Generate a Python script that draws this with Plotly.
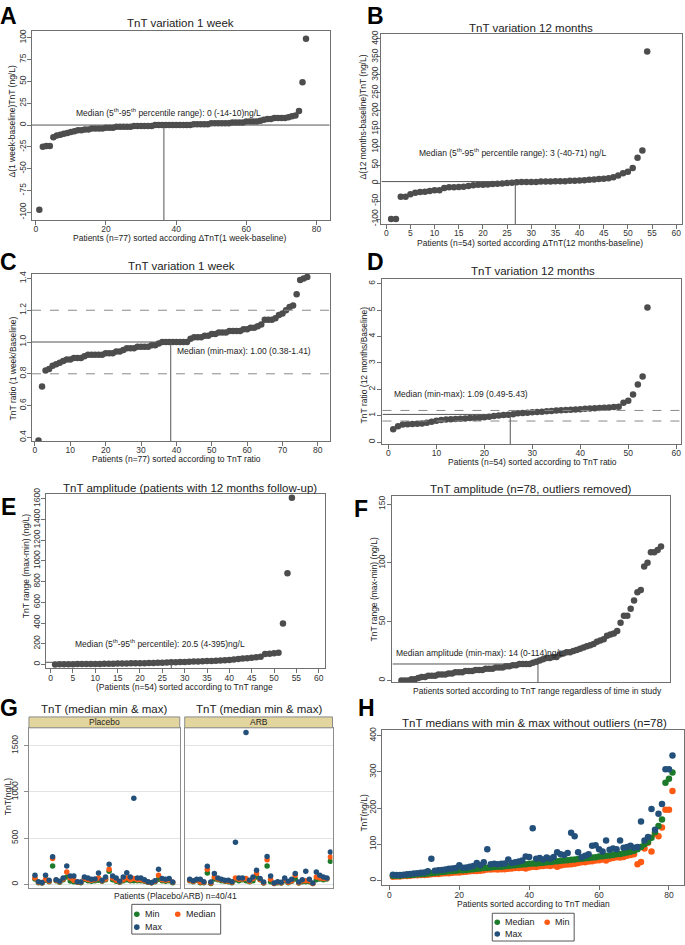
import plotly.graph_objects as go

W, H = 685, 945
FONT = "Liberation Sans, Arial, Helvetica, sans-serif"
DOT = "#4d4d4d"
LINE = "#555555"
BOX = "#707070"
TXT = "#222222"
GREEN = "#1c7a2a"
ORANGE = "#ff5a14"
BLUE = "#23507a"

# ---------------- data ----------------
# A: delta TnT (1 week - baseline), sorted, n=77
a_delta = [-97, -25, -24, -24, -14, -12, -11, -10, -9, -8,
           -7, -6, -6, -5, -5, -4, -4, -4, -4, -3,
           -3, -3, -2, -2, -2, -2, -2, -1, -1, -1,
           -1, -1, -1, 0, 0, 0, 0, 0, 0, 0,
           0, 0, 0, 0, 1, 1, 1, 1, 1, 2,
           2, 2, 2, 2, 2, 3, 3, 3, 3, 4,
           4, 4, 4, 5, 6, 7, 7, 8, 8, 8,
           8, 9, 10, 11, 16, 49, 99]
a_median_x, a_median_y = 36.5, 0

# B: delta TnT (12 months - baseline), sorted, n=54
b_delta = [-100, -100, -38, -38, -31, -27, -25, -24, -22, -20,
           -20, -14, -12, -12, -11, -10, -8, -6, -5, -5,
           -4, -3, -2, -1, 0, 1, 2, 3, 3, 3,
           3, 4, 4, 4, 5, 5, 5, 6, 6, 7,
           8, 9, 10, 11, 12, 13, 16, 21, 27, 31,
           42, 70, 90, 365]
b_median_x, b_median_y = 26.7, 4

# C: TnT ratio 1 week / baseline, n=77
c_ratio = [0.38, 0.72, 0.82, 0.83, 0.85, 0.86, 0.87, 0.88, 0.89, 0.89,
           0.90, 0.90, 0.90, 0.91, 0.92, 0.92, 0.92, 0.92, 0.92, 0.93,
           0.93, 0.93, 0.94, 0.94, 0.95, 0.96, 0.96, 0.96, 0.97, 0.97,
           0.97, 0.97, 0.98, 0.98, 0.99, 1.00, 1.00, 1.00, 1.00, 1.00,
           1.00, 1.00, 1.00, 1.02, 1.03, 1.03, 1.03, 1.04, 1.04, 1.05,
           1.05, 1.06, 1.06, 1.06, 1.07, 1.07, 1.07, 1.07, 1.08, 1.08,
           1.09, 1.09, 1.10, 1.11, 1.14, 1.14, 1.14, 1.15, 1.17, 1.18,
           1.20, 1.22, 1.23, 1.30, 1.39, 1.40, 1.41]
c_median_x, c_median_y = 38.4, 1.0
c_band = [0.8, 1.2]

# D: TnT ratio 12 months / baseline, n=54
d_ratio = [0.49, 0.60, 0.67, 0.68, 0.69, 0.70, 0.71, 0.73, 0.77, 0.81,
           0.84, 0.86, 0.87, 0.88, 0.89, 0.90, 0.91, 0.91, 0.92, 0.94,
           0.96, 0.99, 1.01, 1.03, 1.04, 1.06, 1.09, 1.10, 1.11, 1.13,
           1.14, 1.15, 1.17, 1.18, 1.20, 1.21, 1.22, 1.23, 1.24, 1.25,
           1.26, 1.27, 1.28, 1.29, 1.30, 1.31, 1.33, 1.34, 1.49, 1.57,
           1.80, 2.18, 2.49, 5.10]
d_median_x, d_median_y = 25.4, 1.05
d_band = [0.8, 1.2]

# E: TnT amplitude, patients with 12 months follow-up, n=54
e_range = [0, 1, 1, 2, 2, 3, 3, 4, 4, 5,
           5, 6, 6, 7, 8, 8, 9, 10, 11, 12,
           12, 13, 14, 15, 17, 19, 20, 21, 23, 24,
           26, 27, 29, 30, 32, 34, 36, 38, 40, 43,
           47, 52, 56, 60, 65, 70, 75, 100, 104, 108,
           112, 395, 880, 1610]
e_median_x, e_median_y = 27, 20.5

# F: TnT amplitude, n=78, outliers removed
f_range = [0, 0, 0, 1, 1, 2, 3, 3, 4, 4,
           4, 5, 5, 5, 6, 6, 7, 7, 7, 8,
           8, 8, 9, 9, 9, 10, 10, 10, 11, 11,
           11, 12, 12, 13, 13, 14, 14, 14, 14, 15,
           16, 17, 18, 19, 19, 20, 20, 22, 23, 24,
           24, 25, 26, 27, 28, 29, 30, 31, 33, 34,
           35, 38, 39, 40, 42, 49, 55, 55, 61, 68,
           75, 77, 97, 100, 109, 109, 111, 114]
f_median_x, f_median_y = 41.5, 14

# G: per patient min / median / max TnT, Placebo (n=40) and ARB (n=41)
g_placebo_min = [60, 20, 15, 45, 30, 200, 40, 25, 50, 82,
                 39, 30, 25, 20, 55, 40, 35, 40, 45, 35,
                 50, 143, 50, 35, 25, 40, 50, 40, 40, 40,
                 40, 35, 25, 18, 30, 57, 40, 35, 40, 20]
g_placebo_median = [70, 25, 18, 57, 35, 280, 45, 30, 60, 135,
                    71, 46, 28, 25, 64, 55, 45, 50, 71, 40,
                    60, 164, 70, 45, 30, 50, 71, 50, 64, 50,
                    50, 40, 28, 20, 35, 100, 50, 45, 50, 25]
g_placebo_max = [100, 30, 22, 100, 45, 300, 50, 35, 70, 200,
                 93, 93, 30, 28, 82, 71, 57, 60, 125, 46,
                 82, 218, 93, 71, 35, 82, 128, 82, 932, 71,
                 71, 50, 30, 22, 40, 164, 64, 57, 64, 28]
g_arb_min = [40, 30, 45, 20, 20, 125, 10, 60, 50, 40,
             35, 30, 20, 50, 40, 50, 40, 30, 40, 82,
             50, 15, 200, 30, 10, 20, 15, 40, 20, 35,
             60, 15, 30, 30, 30, 10, 50, 60, 50, 60,
             250]
g_arb_median = [45, 35, 50, 28, 25, 164, 15, 82, 60, 50,
                40, 35, 25, 71, 57, 60, 64, 35, 64, 118,
                55, 20, 268, 57, 12, 25, 20, 50, 25, 40,
                100, 20, 40, 40, 40, 12, 82, 71, 64, 65,
                296]
g_arb_max = [57, 40, 57, 57, 30, 196, 28, 118, 71, 57,
             46, 46, 30, 457, 71, 71, 1643, 46, 82, 153,
             64, 28, 303, 93, 15, 30, 25, 71, 35, 57,
             118, 28, 50, 143, 57, 15, 136, 100, 82, 70,
             350]

# H: TnT medians with min & max, sorted by median
h_median = [13, 13, 13, 14, 14, 15, 16, 17, 17, 18,
            19, 20, 21, 22, 23, 24, 25, 26, 27, 28,
            28, 29, 30, 31, 32, 33, 34, 35, 36, 37,
            38, 38, 39, 40, 41, 42, 43, 44, 45, 46,
            47, 47, 48, 49, 50, 51, 52, 53, 54, 55,
            56, 57, 58, 59, 60, 61, 62, 63, 64, 66,
            67, 68, 69, 70, 72, 73, 75, 77, 79, 82,
            86, 92, 100, 106, 118, 133, 150, 168, 270, 281, 298]
h_min = [10, 11, 11, 12, 12, 13, 14, 14, 15, 15,
         16, 17, 18, 18, 19, 20, 20, 21, 22, 22,
         23, 24, 25, 26, 26, 27, 28, 30, 30, 31,
         30, 31, 31, 32, 33, 34, 34, 35, 33, 36,
         38, 37, 39, 40, 41, 40, 42, 38, 41, 43,
         44, 45, 46, 48, 50, 50, 52, 53, 55, 56,
         58, 55, 60, 62, 64, 63, 65, 68, 70, 72,
         45, 51, 88, 104, 80, 129, 122, 146, 195, 195, 247]
h_max = [16, 15, 15, 16, 17, 18, 19, 20, 21, 22,
         25, 60, 27, 28, 29, 30, 32, 33, 34, 42,
         35, 36, 38, 40, 48, 42, 50, 86, 45, 46,
         45, 46, 47, 58, 48, 50, 52, 55, 66, 65,
         144, 60, 62, 58, 63, 60, 65, 78, 72, 70,
         76, 132, 122, 78, 64, 68, 72, 96, 97, 86,
         80, 110, 85, 88, 86, 110, 90, 92, 96, 90,
         92, 163, 110, 120, 197, 140, 184, 211, 307, 307, 345]

# ---------------- helpers ----------------
def fx(p):
    return p / W


def fy(p):
    return 1 - p / H


layout = {}
annotations = []
shapes = []
fig = go.Figure()


def idx(vals):
    return list(range(1, len(vals) + 1))


def add_axes(i, xpx, ypx, xrange, yrange, xticks, yticks, yfmt=str,
             ylabels=True, ygrid=False, box=BOX, ystand=0):
    s = '' if i == 1 else str(i)
    base = dict(showline=True, linecolor=box, linewidth=1, mirror=True,
                ticks='outside', ticklen=4, tickcolor=box, tickwidth=1,
                tickfont=dict(size=8.5, color='#333333', family=FONT),
                showgrid=False, zeroline=False, fixedrange=True)
    xa = dict(base, domain=[fx(xpx[0]), fx(xpx[1])], range=xrange,
              anchor='y' + s, ticklabelstandoff=-3)
    if xticks:
        xa.update(tickmode='array', tickvals=xticks,
                  ticktext=[str(v) for v in xticks])
    else:
        xa.update(ticks='', showticklabels=False)
    ya = dict(base, domain=[fy(ypx[1]), fy(ypx[0])], range=yrange,
              anchor='x' + s, tickangle=-90, ticklabelstandoff=ystand)
    if yticks:
        ya.update(tickmode='array', tickvals=yticks,
                  ticktext=[yfmt(v) for v in yticks])
    if not ylabels:
        ya.update(showticklabels=False, ticks='')
    if ygrid:
        ya.update(showgrid=True, gridcolor='#e3e3e3', gridwidth=1)
    layout['xaxis' + s] = xa
    layout['yaxis' + s] = ya
    return 'x' + s, 'y' + s


def dots(xr, yr, x, y, color=DOT, size=6.5, name=None):
    fig.add_trace(go.Scatter(x=x, y=y, xaxis=xr, yaxis=yr, mode='markers',
                             name=name, showlegend=False,
                             marker=dict(color=color, size=size,
                                         line=dict(width=0))))


def text(t, x, y, size=8.5, xa='center', ya='middle', angle=0,
         color=TXT, bold=False):
    annotations.append(dict(text=f"<b>{t}</b>" if bold else t,
                            x=fx(x), y=fy(y), xref='paper', yref='paper',
                            xanchor=xa, yanchor=ya, showarrow=False,
                            textangle=angle,
                            font=dict(size=size, color=color, family=FONT)))


def median_lines(xr, yr, mx, my, xmin, ymin, full=False):
    shapes.append(dict(type='line', xref=xr, yref=yr, x0=mx, x1=mx,
                       y0=ymin, y1=my, line=dict(color=LINE, width=1)))
    if full:
        shapes.append(dict(type='line', xref=xr + ' domain', yref=yr,
                           x0=0, x1=1, y0=my, y1=my,
                           line=dict(color=LINE, width=1)))
    else:
        shapes.append(dict(type='line', xref=xr, yref=yr, x0=xmin, x1=mx,
                           y0=my, y1=my, line=dict(color=LINE, width=1)))


def band(xr, yr, vals):
    for v in vals:
        shapes.append(dict(type='line', xref=xr + ' domain', yref=yr,
                           x0=0, x1=1, y0=v, y1=v,
                           line=dict(color='#8a8a8a', width=1, dash='dash')))


# ---------------- Panel A ----------------
rA = ([-1.1, 83.7], [-109, 108])
xa_, ya_ = add_axes(1, (32, 330), (25, 216), rA[0], rA[1],
                    [0, 20, 40, 60, 80], [-100, -75, -50, -25, 0, 25, 50, 75, 100],
                    ystand=-2)
median_lines(xa_, ya_, a_median_x, a_median_y, rA[0][0], rA[1][0], full=True)
dots(xa_, ya_, idx(a_delta), a_delta)

# ---------------- Panel B ----------------
rB = ([-1, 61.2], [-114, 414])
xb, yb = add_axes(2, (382, 683), (28, 220), rB[0], rB[1],
                  list(range(0, 61, 5)), list(range(-100, 401, 50)), ystand=-5)
median_lines(xb, yb, b_median_x, b_median_y, rB[0][0], rB[1][0])
dots(xb, yb, idx(b_delta), b_delta)

# ---------------- Panel C ----------------
rC = ([-0.85, 83.3], [0.375, 1.43])
xc, yc = add_axes(3, (32, 330), (270, 439), rC[0], rC[1],
                  list(range(0, 81, 10)), [0.4, 0.6, 0.8, 1.0, 1.2, 1.4],
                  yfmt=lambda v: f"{v:.1f}", ystand=-2)
band(xc, yc, c_band)
median_lines(xc, yc, c_median_x, c_median_y, rC[0][0], rC[1][0])
dots(xc, yc, idx(c_ratio), c_ratio)

# ---------------- Panel D ----------------
rD = ([-1.25, 61], [-0.08, 6.19])
xd, yd = add_axes(4, (383, 682), (275, 442), rD[0], rD[1],
                  list(range(0, 61, 10)), list(range(0, 7)), ystand=-1)
band(xd, yd, d_band)
median_lines(xd, yd, d_median_x, d_median_y, rD[0][0], rD[1][0])
dots(xd, yd, idx(d_ratio), d_ratio)

# ---------------- Panel E ----------------
rE = ([-1.05, 61.3], [-38, 1648])
xe, ye = add_axes(5, (46, 325), (492, 668), rE[0], rE[1],
                  list(range(0, 61, 5)), list(range(0, 1601, 200)), ystand=-2)
median_lines(xe, ye, e_median_x, e_median_y, rE[0][0], rE[1][0])
dots(xe, ye, idx(e_range), e_range)

# ---------------- Panel F ----------------
rF = ([-1.67, 80.67], [-1.5, 157])
xf, yf = add_axes(6, (393, 671), (494, 682), rF[0], rF[1],
                  None, [0, 50, 100, 150], ystand=-1)
median_lines(xf, yf, f_median_x, f_median_y, rF[0][0], rF[1][0])
dots(xf, yf, idx(f_range), f_range)

# ---------------- Panel G ----------------
rG = [-43, 1693]
xg1, yg1 = add_axes(7, (29, 180), (728, 890), [-0.7, 42.0], rG,
                    None, [0, 500, 1000, 1500], ygrid=True, box='#8c8c8c',
                    ystand=3)
xg2, yg2 = add_axes(8, (185, 333), (728, 890), [-0.42, 41.6], rG,
                    None, [0, 500, 1000, 1500], ylabels=False, ygrid=True,
                    box='#8c8c8c')
for (xr, yr, mn, md, mx) in [(xg1, yg1, g_placebo_min, g_placebo_median, g_placebo_max),
                              (xg2, yg2, g_arb_min, g_arb_median, g_arb_max)]:
    dots(xr, yr, idx(mn), mn, color=GREEN, size=5.5, name='Min')
    dots(xr, yr, idx(md), md, color=ORANGE, size=5.5, name='Median')
    dots(xr, yr, idx(mx), mx, color=BLUE, size=5.5, name='Max')

for (x0, x1, lab) in [(29, 180, 'Placebo'), (185, 333, 'ARB')]:
    shapes.append(dict(type='rect', xref='paper', yref='paper',
                       x0=fx(x0), x1=fx(x1), y0=fy(728), y1=fy(717),
                       fillcolor='#e2d69e', line=dict(color='#8c8c8c', width=1)))
    text(lab, (x0 + x1) / 2, 722.5, size=8.5)
    text('TnT (median min & max)', (x0 + x1) / 2, 709, size=11.5)

# ---------------- Panel H ----------------
rH = ([-2, 84.3], [-14, 416])
xh, yh = add_axes(9, (383, 685), (730, 887), rH[0], rH[1],
                  [0, 20, 40, 60, 80], [0, 100, 200, 300, 400], ystand=-2)
dots(xh, yh, idx(h_min), h_min, color=ORANGE, size=6.5, name='Min')
dots(xh, yh, idx(h_median), h_median, color=GREEN, size=6.5, name='Median')
dots(xh, yh, idx(h_max), h_max, color=BLUE, size=6.5, name='Max')

# ---------------- titles ----------------
text('TnT variation 1 week', 181, 17, size=11.5)
text('TnT variation 12 months', 532, 22, size=11.5)
text('TnT variation 1 week', 182, 262, size=11.5)
text('TnT variation 12 months', 534, 267, size=11.5)
text('TnT amplitude (patients with 12 months follow-up)', 190, 486, size=11.5)
text('TnT amplitude (n=78, outliers removed)', 532, 487, size=11.5)
text('TnT medians with min & max without outliers (n=78)', 535, 723, size=11.5)

# panel letters
for lab, x, y in [('A', 9, 10), ('B', 376, 10), ('C', 9, 258), ('D', 376, 258),
                  ('E', 9, 505), ('F', 362, 507), ('G', 9.5, 708), ('H', 367, 708)]:
    text(lab, x, y, size=23, bold=True, color='#000000')

# axis titles
text('Patients (n=77) sorted according \u0394TnT(1 week-baseline)', 180, 234)
text('\u0394(1 week-baseline)TnT (ng/L)', 12.5, 116, angle=-90)
text('Patients (n=54) sorted according \u0394TnT(12 months-baseline)', 531, 239)
text('\u0394(12 months-baseline)TnT (ng/L)', 364, 112, angle=-90)
text('Patients (n=77) sorted according to TnT ratio', 177, 457)
text('TnT ratio (1 week/Baseline)', 12.5, 365, angle=-90)
text('Patients (n=54) sorted according to TnT ratio', 533, 460)
text('TnT ratio (12 months/Baseline)', 364, 362, angle=-90)
text('(Patients (n=54) sorted according to TnT range', 185, 687)
text('TnT range (max-min) (ng/L)', 26, 565, angle=-90)
text('Patients sorted according to TnT range regardless of time in study', 538, 691)
text('TnT range (max-min) (ng/L)', 375, 588, angle=-90)
text('Patients (Placebo/ARB) n=40/41', 176, 898)
text('TnT(ng/L)', 8, 797, angle=-90)
text('Patients sorted according to TnT median', 534, 906)
text('TnT(ng/L)', 365, 814, angle=-90)

# median texts
text('Median (5<sup>th</sup>-95<sup>th</sup> percentile range): 0 (-14-10)ng/L', 74, 107, xa='left')
text('Median (5<sup>th</sup>-95<sup>th</sup> percentile range): 3 (-40-71) ng/L', 418, 148, xa='left')
text('Median (min-max): 1.00 (0.38-1.41)', 175, 348, xa='left')
text('Median (min-max): 1.09 (0.49-5.43)', 393, 391, xa='left')
text('Median (5<sup>th</sup>-95<sup>th</sup> percentile): 20.5 (4-395)ng/L', 73, 643, xa='left')
text('Median amplitude (min-max): 14 (0-114)ng/L', 395, 653, xa='left')


# legends (G and H)
def legend_box(x0, y0, x1, y1, items):
    shapes.append(dict(type='rect', xref='paper', yref='paper',
                       x0=fx(x0), x1=fx(x1), y0=fy(y1), y1=fy(y0),
                       line=dict(color='#555555', width=1), fillcolor='white'))
    for (lab, color, cx, cy) in items:
        r = 2.8
        shapes.append(dict(type='circle', xref='paper', yref='paper',
                           x0=fx(cx - r), x1=fx(cx + r), y0=fy(cy + r), y1=fy(cy - r),
                           fillcolor=color, line=dict(color=color, width=0)))
        text(lab, cx + 6, cy, size=9, xa='left')


legend_box(132, 906, 221, 936, [('Min', GREEN, 137, 916), ('Median', ORANGE, 178, 916),
                                 ('Max', BLUE, 137, 929)])
legend_box(493, 915, 575, 943, [('Median', GREEN, 498, 924), ('Min', ORANGE, 548, 924),
                                 ('Max', BLUE, 498, 936)])

layout.update(width=W, height=H, margin=dict(l=0, r=0, t=0, b=0),
              paper_bgcolor='white', plot_bgcolor='white', showlegend=False,
              font=dict(family=FONT, color=TXT), annotations=annotations,
              shapes=shapes)
fig.update_layout(**layout)
fig.write_html("out.html",
               config={'displayModeBar': False},
               post_script="document.body.style.margin='0px';"
                           "document.body.style.padding='0px';"
                           "document.body.style.overflow='hidden';")
